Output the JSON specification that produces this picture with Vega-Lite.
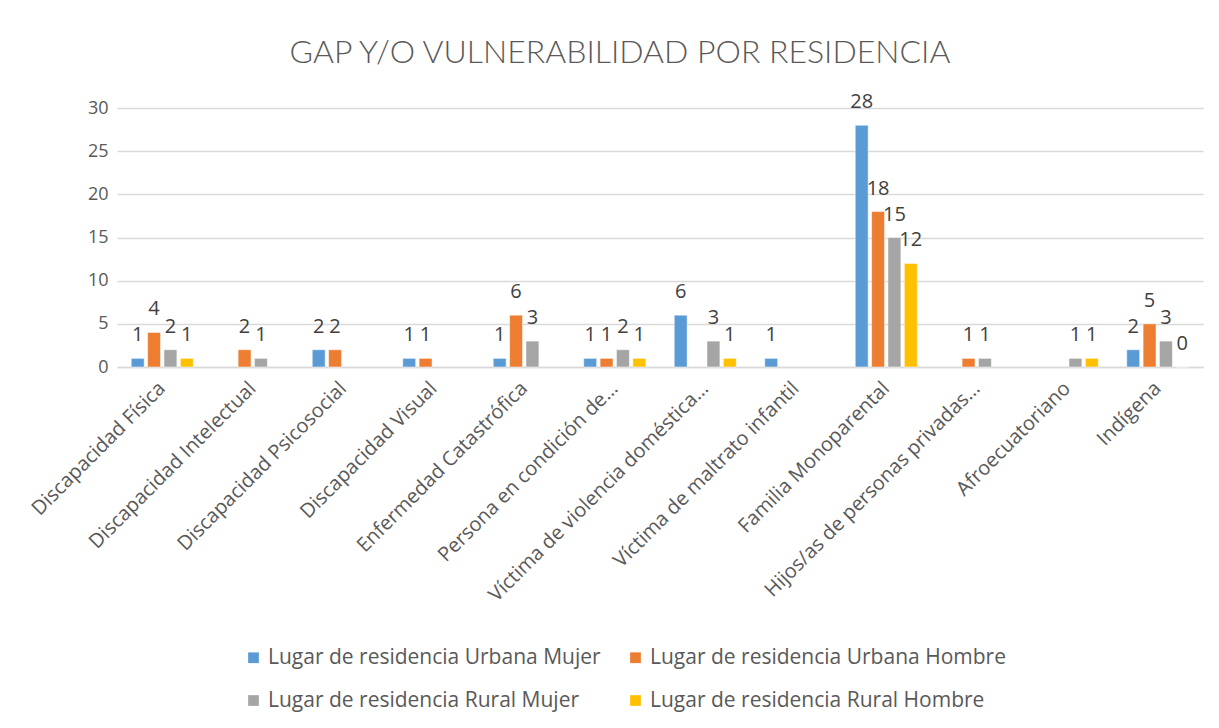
{
  "$schema": "https://vega.github.io/schema/vega-lite/v6.json",
  "width": 1086,
  "height": 259,
  "autosize": {"type": "none"},
  "padding": {"left": 117, "top": 108, "right": 16, "bottom": 361},
  "background": "white",
  "title": {
    "text": "GAP Y/O VULNERABILIDAD POR RESIDENCIA",
    "font": "Lato",
    "fontSize": 32,
    "fontWeight": 300,
    "color": "#595959",
    "anchor": "middle",
    "offset": 22,
    "dx": -40
  },
  "data": {
    "values": [
      {"categoria": "Discapacidad Física", "serie": "Lugar de residencia Urbana Mujer", "valor": 1},
      {"categoria": "Discapacidad Física", "serie": "Lugar de residencia Urbana Hombre", "valor": 4},
      {"categoria": "Discapacidad Física", "serie": "Lugar de residencia Rural Mujer", "valor": 2},
      {"categoria": "Discapacidad Física", "serie": "Lugar de residencia Rural Hombre", "valor": 1},
      {"categoria": "Discapacidad Intelectual", "serie": "Lugar de residencia Urbana Hombre", "valor": 2},
      {"categoria": "Discapacidad Intelectual", "serie": "Lugar de residencia Rural Mujer", "valor": 1},
      {"categoria": "Discapacidad Psicosocial", "serie": "Lugar de residencia Urbana Mujer", "valor": 2},
      {"categoria": "Discapacidad Psicosocial", "serie": "Lugar de residencia Urbana Hombre", "valor": 2},
      {"categoria": "Discapacidad Visual", "serie": "Lugar de residencia Urbana Mujer", "valor": 1},
      {"categoria": "Discapacidad Visual", "serie": "Lugar de residencia Urbana Hombre", "valor": 1},
      {"categoria": "Enfermedad Catastrófica", "serie": "Lugar de residencia Urbana Mujer", "valor": 1},
      {"categoria": "Enfermedad Catastrófica", "serie": "Lugar de residencia Urbana Hombre", "valor": 6},
      {"categoria": "Enfermedad Catastrófica", "serie": "Lugar de residencia Rural Mujer", "valor": 3},
      {"categoria": "Persona en condición de…", "serie": "Lugar de residencia Urbana Mujer", "valor": 1},
      {"categoria": "Persona en condición de…", "serie": "Lugar de residencia Urbana Hombre", "valor": 1},
      {"categoria": "Persona en condición de…", "serie": "Lugar de residencia Rural Mujer", "valor": 2},
      {"categoria": "Persona en condición de…", "serie": "Lugar de residencia Rural Hombre", "valor": 1},
      {"categoria": "Víctima de violencia doméstica…", "serie": "Lugar de residencia Urbana Mujer", "valor": 6},
      {"categoria": "Víctima de violencia doméstica…", "serie": "Lugar de residencia Rural Mujer", "valor": 3},
      {"categoria": "Víctima de violencia doméstica…", "serie": "Lugar de residencia Rural Hombre", "valor": 1},
      {"categoria": "Víctima de maltrato infantil", "serie": "Lugar de residencia Urbana Mujer", "valor": 1},
      {"categoria": "Familia Monoparental", "serie": "Lugar de residencia Urbana Mujer", "valor": 28},
      {"categoria": "Familia Monoparental", "serie": "Lugar de residencia Urbana Hombre", "valor": 18},
      {"categoria": "Familia Monoparental", "serie": "Lugar de residencia Rural Mujer", "valor": 15},
      {"categoria": "Familia Monoparental", "serie": "Lugar de residencia Rural Hombre", "valor": 12},
      {"categoria": "Hijos/as de personas privadas…", "serie": "Lugar de residencia Urbana Hombre", "valor": 1},
      {"categoria": "Hijos/as de personas privadas…", "serie": "Lugar de residencia Rural Mujer", "valor": 1},
      {"categoria": "Afroecuatoriano", "serie": "Lugar de residencia Rural Mujer", "valor": 1},
      {"categoria": "Afroecuatoriano", "serie": "Lugar de residencia Rural Hombre", "valor": 1},
      {"categoria": "Indígena", "serie": "Lugar de residencia Urbana Mujer", "valor": 2},
      {"categoria": "Indígena", "serie": "Lugar de residencia Urbana Hombre", "valor": 5},
      {"categoria": "Indígena", "serie": "Lugar de residencia Rural Mujer", "valor": 3},
      {"categoria": "Indígena", "serie": "Lugar de residencia Rural Hombre", "valor": 0}
    ]
  },
  "encoding": {
    "x": {
      "field": "categoria",
      "type": "nominal",
      "sort": null,
      "title": null,
      "scale": {"paddingInner": 0, "paddingOuter": 0},
      "axis": {
        "labelAngle": -45,
        "labelAlign": "right",
        "labelBaseline": "middle",
        "labelFont": "Open Sans",
        "labelFontSize": 20,
        "labelColor": "#595959",
        "labelPadding": 18,
        "labelLimit": 400,
        "ticks": false,
        "domainColor": "#D9D9D9",
        "domainWidth": 1.5
      }
    },
    "xOffset": {
      "field": "serie",
      "type": "nominal",
      "scale": {
        "domain": ["Lugar de residencia Urbana Mujer", "Lugar de residencia Urbana Hombre", "Lugar de residencia Rural Mujer", "Lugar de residencia Rural Hombre"],
        "paddingInner": 0.21,
        "paddingOuter": 0.87
      }
    },
    "y": {
      "field": "valor",
      "type": "quantitative",
      "title": null,
      "scale": {"domain": [0, 30]},
      "axis": {
        "values": [0, 5, 10, 15, 20, 25, 30],
        "labelFont": "Open Sans",
        "labelFontSize": 18,
        "labelColor": "#595959",
        "labelPadding": 9,
        "ticks": false,
        "domain": false,
        "gridColor": "#D9D9D9",
        "gridWidth": 1.5
      }
    }
  },
  "layer": [
    {
      "mark": {"type": "bar", "stroke": "white", "strokeWidth": 0.5},
      "encoding": {
        "color": {
          "field": "serie",
          "type": "nominal",
          "title": null,
          "scale": {
            "domain": ["Lugar de residencia Urbana Mujer", "Lugar de residencia Urbana Hombre", "Lugar de residencia Rural Mujer", "Lugar de residencia Rural Hombre"],
            "range": ["#5B9BD5", "#ED7D31", "#A5A5A5", "#FFC000"]
          },
          "legend": {
            "orient": "none",
            "legendX": 126,
            "legendY": 539,
            "columns": 2,
            "direction": "horizontal",
            "columnPadding": 24,
            "rowPadding": 21,
            "symbolType": "square",
            "symbolSize": 115,
            "symbolStrokeWidth": 0,
            "labelFont": "Open Sans",
            "labelFontSize": 21,
            "labelColor": "#595959",
            "labelLimit": 500,
            "labelOffset": 4
          }
        }
      }
    },
    {
      "mark": {"type": "text", "baseline": "alphabetic", "dy": -17, "font": "Open Sans", "fontSize": 20, "color": "#404040"},
      "encoding": {
        "text": {"field": "valor", "type": "quantitative"}
      }
    }
  ],
  "config": {"view": {"stroke": null}}
}
